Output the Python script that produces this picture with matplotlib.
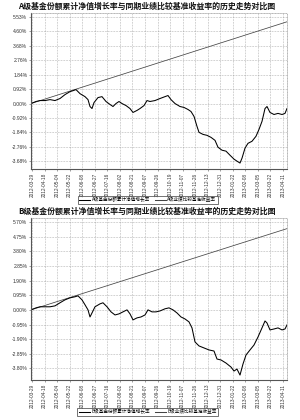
import numpy as np
import matplotlib
matplotlib.use("Agg")
import matplotlib.pyplot as plt
from matplotlib.ticker import FixedLocator

plt.rcParams['font.family'] = ['Noto Sans CJK SC', 'DejaVu Sans']

# ---------------- data ----------------
date_labels = ["2012-03-29", "2012-04-18", "2012-05-04", "2012-05-22", "2012-06-08",
               "2012-06-27", "2012-07-16", "2012-08-02", "2012-08-21", "2012-09-07",
               "2012-09-26", "2012-10-19", "2012-11-07", "2012-11-26", "2012-12-13",
               "2012-12-31", "2013-01-22", "2013-02-08", "2013-03-05", "2013-03-22",
               "2013-04-11"]

# trading-day index of each observation (period spans 0..256)
days_a = [0, 5, 9, 14, 19, 24, 29, 34, 39, 42, 45, 49, 54, 57, 59, 61, 63, 67, 71, 75,
          79, 82, 85, 88, 91, 95, 99, 102, 106, 109, 113, 116, 119, 124, 129, 134, 137,
          140, 144, 149, 153, 157, 160, 163, 166, 168, 172, 176, 180, 184, 187, 191, 195,
          199, 203, 206, 209, 211, 214, 217, 221, 225, 228, 231, 234, 236, 239, 243, 247,
          251, 254, 256]
nav_a = [0.00, 0.13, 0.19, 0.19, 0.25, 0.19, 0.32, 0.57, 0.76, 0.82, 0.89, 0.63, 0.44,
         0.25, -0.19, -0.32, 0.06, 0.38, 0.44, 0.13, -0.06, -0.19, 0.00, 0.13, 0.00, -0.13,
         -0.32, -0.57, -0.44, -0.32, -0.13, 0.19, 0.13, 0.19, 0.32, 0.44, 0.51, 0.25, 0.00,
         -0.19, -0.25, -0.38, -0.51, -0.82, -1.46, -1.84, -1.97, -2.03, -2.16, -2.35, -2.79,
         -2.98, -3.04, -3.30, -3.55, -3.68, -3.80, -3.49, -2.85, -2.54, -2.41, -2.09, -1.65,
         -1.14, -0.32, -0.19, -0.57, -0.70, -0.63, -0.70, -0.63, -0.32]

days_b = [0, 5, 9, 14, 19, 24, 29, 34, 39, 44, 47, 51, 54, 57, 59, 61, 64, 69, 72, 76,
          80, 84, 88, 92, 96, 99, 102, 106, 110, 114, 117, 121, 125, 129, 134, 138, 142,
          146, 150, 154, 158, 161, 164, 168, 173, 178, 183, 186, 190, 195, 200, 203, 206,
          209, 212, 215, 219, 223, 227, 231, 234, 236, 239, 243, 247, 251, 254, 257]
nav_b = [0.00, 0.13, 0.20, 0.20, 0.20, 0.26, 0.46, 0.65, 0.78, 0.85, 0.91, 0.65, 0.33,
         0.00, -0.46, -0.20, 0.20, 0.39, 0.46, 0.20, -0.13, -0.33, -0.26, -0.13, 0.00,
         -0.26, -0.65, -0.52, -0.46, -0.33, 0.00, -0.13, -0.13, -0.07, 0.07, 0.13, 0.00,
         -0.20, -0.46, -0.59, -0.78, -1.17, -2.08, -2.34, -2.47, -2.60, -2.67, -3.19, -3.25,
         -3.45, -3.71, -3.97, -3.84, -4.23, -3.51, -2.93, -2.60, -2.28, -1.76, -1.17, -0.72,
         -0.85, -1.30, -1.24, -1.17, -1.30, -1.24, -0.85]

bench_days = [0, 256]
bench_a = [0.00, 5.22]
bench_b = [0.00, 5.27]

yticks_a = [-3.68, -2.76, -1.84, -0.92, 0.00, 0.92, 1.84, 2.76, 3.68, 4.60, 5.53]
yticks_b = [-3.80, -2.85, -1.90, -0.95, 0.00, 0.95, 1.90, 2.85, 3.80, 4.75, 5.70]

title_a = "A级基金份额累计净值增长率与同期业绩比较基准收益率的历史走势对比图"
title_b = "B级基金份额累计净值增长率与同期业绩比较基准收益率的历史走势对比图"
legend_a = ["A级基金份额累计净值增长率", "A级业绩比较基准收益率"]
legend_b = ["B级基金份额累计净值增长率", "B级业绩比较基准收益率"]

# ---------------- drawing ----------------
fig = plt.figure(figsize=(3.0, 4.2), dpi=100)
fig.patch.set_facecolor("white")

tick_pos = np.linspace(1, 252, len(date_labels))


def panel(rect, days, nav, bench, yticks, ylim, title, title_y, leg, leg_y):
    ax = fig.add_axes(rect)
    ax.plot(bench_days, bench, color="#444444", lw=0.55)
    ax.plot(days, nav, color="black", lw=0.75)
    ax.set_xlim(0, 256)
    ax.set_ylim(*ylim)
    ax.yaxis.set_major_locator(FixedLocator(yticks))
    ax.set_yticklabels([f"{v:.2f}%" for v in yticks], fontsize=3.6,
                       family=['Liberation Sans', 'DejaVu Sans'], color="#333333")
    ax.set_xticks(tick_pos)
    ax.set_xticklabels(date_labels, rotation=90, fontsize=3.4,
                       family=['Liberation Sans', 'DejaVu Sans'], color="#333333")
    ax.tick_params(axis='both', length=1.5, width=0.4, pad=1.2, color="#555555")
    ax.grid(True, color="#8f8f8f", lw=0.45, ls=(0, (1, 1.5)))
    for s in ["top", "right"]:
        ax.spines[s].set_color("#8f8f8f")
        ax.spines[s].set_linestyle((0, (1, 1.5)))
        ax.spines[s].set_linewidth(0.45)
    for s in ["left", "bottom"]:
        ax.spines[s].set_color("#555555")
        ax.spines[s].set_linewidth(0.8)
    fig.text(0.49, title_y, title, ha="center", va="center", fontsize=5.7,
             fontweight="bold", color="#111111")
    h1, = ax.plot([], [], color="black", lw=0.75)
    h2, = ax.plot([], [], color="#444444", lw=0.75)
    lg = fig.legend([h1, h2], leg, loc="center", bbox_to_anchor=(0.493, leg_y),
                    ncol=2, fontsize=3.3, frameon=True, fancybox=False,
                    handlelength=2.4, handletextpad=0.4, columnspacing=0.9,
                    borderpad=0.35, borderaxespad=0)
    lg.get_frame().set_edgecolor("#333333")
    lg.get_frame().set_linewidth(0.6)
    return ax


panel([31/300, 1-169/420, 256/300, 156/420], days_a, nav_a, bench_a, yticks_a,
      (-4.18, 5.78), title_a, 1-6/420, legend_a, 1-200/420)
panel([31/300, 1-380/420, 256/300, 162/420], days_b, nav_b, bench_b, yticks_b,
      (-4.55, 5.96), title_b, 1-211/420, legend_b, 1-412/420)

fig.savefig("out.png", dpi=100, facecolor="white")
